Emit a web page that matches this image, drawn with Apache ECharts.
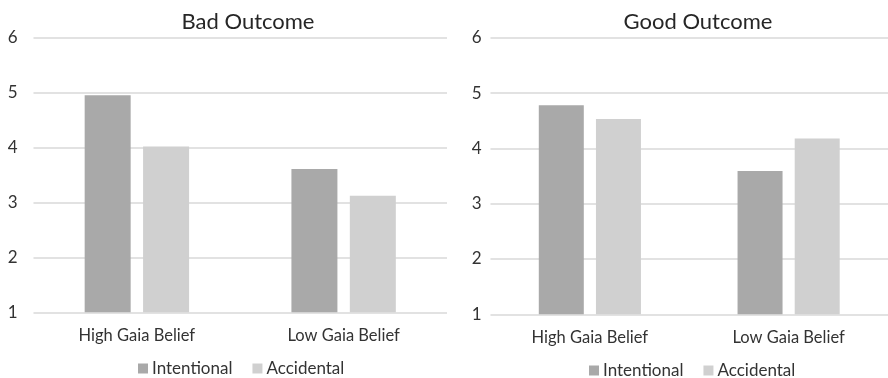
<!DOCTYPE html>
<html>
<head>
<meta charset="utf-8">
<script src="https://cdn.jsdelivr.net/npm/echarts@6/dist/echarts.min.js"></script>
<style>
  html, body { margin: 0; padding: 0; background: #ffffff; }
  #chart { width: 888px; height: 378px; }
</style>
</head>
<body>
<div id="chart"></div>
<script>
// Belief groups on the x axis
const categories = ['High Gaia Belief', 'Low Gaia Belief'];
// Mean ratings, bad outcome panel
const badIntentional = [4.95, 3.61];
const badAccidental = [4.02, 3.12];
// Mean ratings, good outcome panel
const goodIntentional = [4.78, 3.59];
const goodAccidental = [4.53, 4.18];
// Panel titles and legend entries
const panelTitles = ['Bad Outcome', 'Good Outcome'];
const seriesNames = ['Intentional', 'Accidental'];

const FONT = 'Lato, "Open Sans", sans-serif';
const TEXT = '#333333';
const colors = ['#a9a9a9', '#d0d0d0'];

function yAxis(gridIndex, margin) {
  return {
    type: 'value', gridIndex: gridIndex, min: 1, max: 6, interval: 1,
    axisLine: { show: false }, axisTick: { show: false },
    axisLabel: { color: TEXT, fontFamily: FONT, fontSize: 17, margin: margin },
    splitLine: { lineStyle: { color: '#e2e2e2', width: 2 } }
  };
}
function xAxis(gridIndex) {
  return {
    type: 'category', gridIndex: gridIndex, data: categories,
    axisLine: { show: false }, axisTick: { show: false },
    axisLabel: { color: TEXT, fontFamily: FONT, fontSize: 16.5, margin: 15 }
  };
}
function bar(name, data, idx, color, width) {
  return {
    name: name, type: 'bar', xAxisIndex: idx, yAxisIndex: idx, data: data,
    barWidth: width, barGap: '27%',
    itemStyle: { color: color },
    emphasis: { disabled: true }
  };
}
function legend(left, top) {
  return {
    data: seriesNames, left: left, top: top,
    icon: 'rect', itemWidth: 10, itemHeight: 10, itemGap: 20,
    textStyle: { color: TEXT, fontFamily: FONT, fontSize: 17, padding: [0, 0, 0, -1] }
  };
}

const chart = echarts.init(document.getElementById('chart'));
chart.setOption({
  animation: false,
  color: colors,
  title: [
    { text: panelTitles[0], left: 243, top: 6, textAlign: 'center',
      textStyle: { color: '#262626', fontFamily: FONT, fontSize: 22, fontWeight: 'normal' } },
    { text: panelTitles[1], left: 693, top: 6, textAlign: 'center',
      textStyle: { color: '#262626', fontFamily: FONT, fontSize: 22, fontWeight: 'normal' } }
  ],
  legend: [legend(133, 355), legend(584, 357)],
  grid: [
    { left: 33.5, top: 37.7, width: 413.5, height: 274.6 },
    { left: 490.5, top: 37.7, width: 402, height: 276.6 }
  ],
  xAxis: [xAxis(0), xAxis(1)],
  yAxis: [yAxis(0, 16), yAxis(1, 9)],
  series: [
    bar(seriesNames[0], badIntentional, 0, colors[0], 46),
    bar(seriesNames[1], badAccidental, 0, colors[1], 46),
    bar(seriesNames[0], goodIntentional, 1, colors[0], 45),
    bar(seriesNames[1], goodAccidental, 1, colors[1], 45)
  ]
});
</script>
</body>
</html>
